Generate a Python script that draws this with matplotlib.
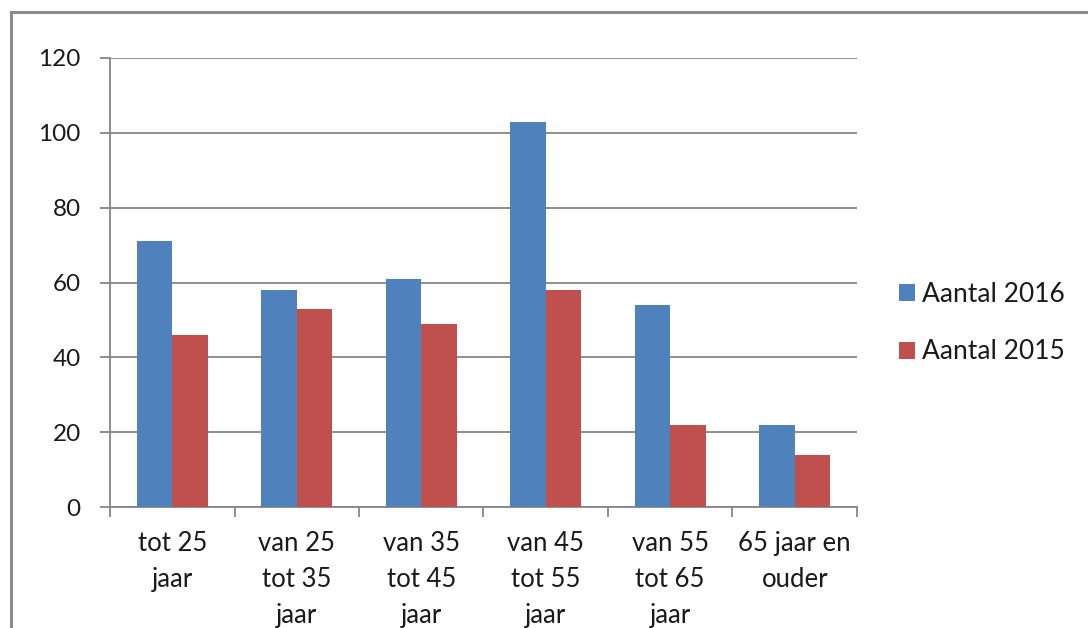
import numpy as np
import matplotlib
matplotlib.use("Agg")
import matplotlib.pyplot as plt
from matplotlib.lines import Line2D

# data
categories = [
    "tot 25\njaar",
    "van 25\ntot 35\njaar",
    "van 35\ntot 45\njaar",
    "van 45\ntot 55\njaar",
    "van 55\ntot 65\njaar",
    "65 jaar en\nouder",
]
aantal_2016 = [71, 58, 61, 103, 54, 22]
aantal_2015 = [46, 53, 49, 58, 22, 14]
series_labels = ["Aantal 2016", "Aantal 2015"]

BLUE = "#4F81BD"
RED = "#C0504D"
GRID = "#868686"
TEXT = "#1a1a1a"

plt.rcParams["font.family"] = ["Lato", "DejaVu Sans"]

fig = plt.figure(figsize=(10.88, 6.28), dpi=100)
ax = fig.add_axes([110 / 1088, 1 - 507 / 628, 747 / 1088, 449 / 628])

x = np.arange(len(categories))
w = 1 / 3.5
ax.bar(x - w / 2, aantal_2016, width=w, color=BLUE, label=series_labels[0], zorder=3)
ax.bar(x + w / 2, aantal_2015, width=w, color=RED, label=series_labels[1], zorder=3)

ax.set_xlim(-0.5, len(categories) - 0.5)
ax.set_ylim(0, 120)
ax.set_yticks(range(0, 121, 20))
ax.yaxis.grid(True, color=GRID, linewidth=1.3, zorder=0)

# x ticks at category boundaries, labels centred in between
ax.set_xticks(np.arange(-0.5, len(categories), 1))
ax.set_xticklabels([])
ax.set_xticks(x, minor=True)
ax.set_xticklabels(categories, minor=True, fontsize=18.5, color=TEXT, linespacing=1.56,
                   va="top")
ax.tick_params(axis="x", which="major", length=7, width=1.3, color=GRID)
ax.tick_params(axis="x", which="minor", length=0, pad=17)
ax.tick_params(axis="y", length=7, width=1.3, color=GRID, labelsize=17.5,
               labelcolor=TEXT, pad=14)

for s in ["top", "right"]:
    ax.spines[s].set_visible(False)
for s in ["left", "bottom"]:
    ax.spines[s].set_color(GRID)
    ax.spines[s].set_linewidth(1.3)

leg = fig.legend(loc="center left", bbox_to_anchor=(875 / 1088, 1 - 323 / 628),
                 frameon=False, fontsize=19, handlelength=0.6, handleheight=0.6,
                 handletextpad=0.3, labelspacing=1.25, labelcolor=TEXT)

# grey frame round the chart (only top and left are visible)
fig.add_artist(Line2D([11 / 1088, 11 / 1088], [0, 1 - 12 / 628], color="#8c8c8c",
                      linewidth=2.2, transform=fig.transFigure))
fig.add_artist(Line2D([11 / 1088, 1], [1 - 12 / 628, 1 - 12 / 628], color="#8c8c8c",
                      linewidth=2.2, transform=fig.transFigure))

fig.savefig("out.png", dpi=100)
